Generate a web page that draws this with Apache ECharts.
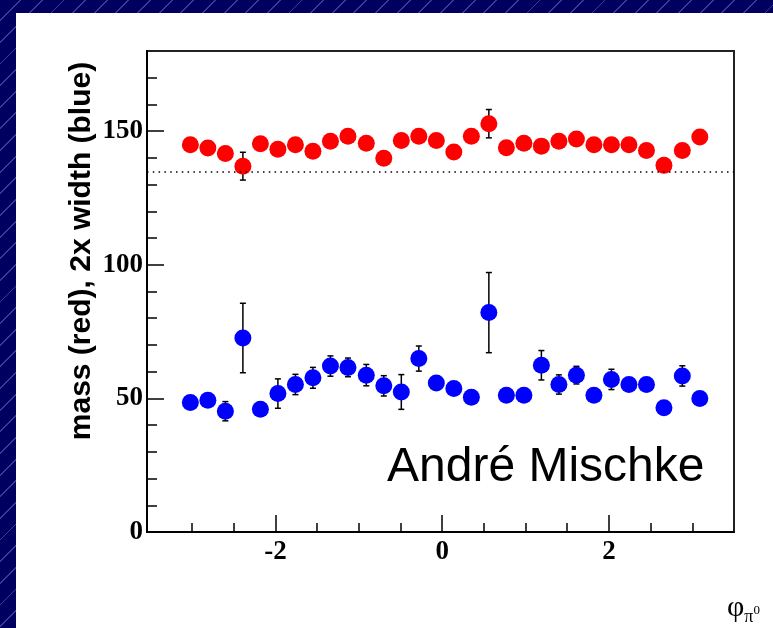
<!DOCTYPE html>
<html>
<head>
<meta charset="utf-8">
<script src="https://cdn.jsdelivr.net/npm/echarts@6/dist/echarts.min.js"></script>
<style>
  html, body { margin: 0; padding: 0; }
  body {
    width: 773px; height: 628px; overflow: hidden;
    background: repeating-linear-gradient(135deg, #000060 0px, #000060 14px, #3c3c98 14px, #3c3c98 15.3px);
  }
  #chart { width: 773px; height: 628px; }
</style>
</head>
<body>
<div id="chart"></div>
<script>
// phi bin centres
var phi = [-3.02, -2.81, -2.60, -2.39, -2.18, -1.97, -1.76, -1.55, -1.34, -1.13,
           -0.91, -0.70, -0.49, -0.28, -0.07, 0.14, 0.35, 0.56, 0.77, 0.98,
           1.19, 1.40, 1.61, 1.82, 2.03, 2.24, 2.45, 2.66, 2.88, 3.09];
// mass (red)
var mass = [144.9, 143.7, 141.6, 136.9, 145.3, 143.2, 144.9, 142.5, 146.2, 148.1,
            145.5, 139.9, 146.5, 148.1, 146.5, 142.2, 148.1, 152.8, 143.8, 145.5,
            144.4, 146.2, 147.1, 144.9, 144.9, 144.9, 142.8, 137.2, 142.8, 147.8];
var massErr = [2, 2, 2, 5.2, 2, 2, 2, 2, 2, 2,
               2, 2, 2, 2, 2, 2, 2, 5.3, 2, 2,
               2, 2, 2, 2, 2, 2, 2, 2, 2, 2];
// 2x width (blue)
var width2 = [48.5, 49.3, 45.2, 72.6, 45.9, 51.8, 55.2, 57.7, 62.1, 61.6,
              58.7, 54.7, 52.4, 64.9, 55.8, 53.7, 50.4, 82.1, 51.2, 51.2,
              62.4, 55.2, 58.7, 51.2, 57.1, 55.2, 55.2, 46.5, 58.4, 50.0];
var width2Err = [1.5, 1.5, 3.6, 13, 1.5, 5.5, 3.8, 3.9, 3.8, 3.5,
                 4, 3.8, 6.5, 4.7, 2, 2, 2, 15, 2, 2,
                 5.5, 3.6, 3.3, 2, 3.8, 2.5, 2.5, 2.5, 3.8, 2];
var pi0Mass = 135;

var xMajor = [-2, 0, 2];
var xMinor = [-3, -2.5, -1.5, -1, -0.5, 0.5, 1, 1.5, 2.5, 3];
var yMajor = [0, 50, 100, 150];
var yMinor = [10, 20, 30, 40, 60, 70, 80, 90, 110, 120, 130, 140, 160, 170];

function zip(xs, ys, es) {
    var out = [];
    for (var i = 0; i < xs.length; i++) out.push([xs[i], ys[i], es[i]]);
    return out;
}

function renderErr(params, api) {
    var x = api.value(0), y = api.value(1), e = api.value(2);
    var top = api.coord([x, y + e]);
    var bot = api.coord([x, y - e]);
    var c = 3;
    var st = { stroke: '#000', lineWidth: 1.5 };
    return {
        type: 'group',
        children: [
            { type: 'line', shape: { x1: top[0], y1: top[1], x2: bot[0], y2: bot[1] }, style: st },
            { type: 'line', shape: { x1: top[0] - c, y1: top[1], x2: top[0] + c, y2: top[1] }, style: st },
            { type: 'line', shape: { x1: bot[0] - c, y1: bot[1], x2: bot[0] + c, y2: bot[1] }, style: st }
        ]
    };
}

var labelFont = { fontFamily: 'Liberation Serif', fontWeight: 'bold', fontSize: 27, color: '#000' };

var myChart = echarts.init(document.getElementById('chart'));
var option = {
    animation: false,
    backgroundColor: 'transparent',
    graphic: [
        { type: 'rect', left: 16, top: 13, z: -10, shape: { width: 757, height: 615 }, style: { fill: '#fff' } },
        {
            type: 'text', x: 82, y: 251, rotation: Math.PI / 2,
            style: {
                text: 'mass (red), 2x width (blue)', fontFamily: 'Liberation Sans', fontWeight: 'bold',
                fontSize: 30, fill: '#000', align: 'center', verticalAlign: 'middle'
            }
        },
        {
            type: 'text', x: 387, y: 468,
            style: {
                text: 'André Mischke', fontFamily: 'Liberation Sans', fontSize: 48,
                fill: '#000', align: 'left', verticalAlign: 'middle'
            }
        },
        {
            type: 'text', x: 727, y: 608,
            style: {
                text: '{a|φ}{b|π}{c|0}', verticalAlign: 'middle',
                rich: {
                    a: { fontFamily: 'Liberation Serif', fontSize: 30, fill: '#000' },
                    b: { fontFamily: 'Liberation Serif', fontSize: 18, fill: '#000', padding: [18, 0, 0, 0] },
                    c: { fontFamily: 'Liberation Serif', fontSize: 13, fill: '#000', padding: [6, 0, 0, 0] }
                }
            }
        }
    ],
    grid: { left: 147, top: 51, right: 39, bottom: 96, show: true, borderColor: '#222', borderWidth: 2 },
    xAxis: [
        {
            type: 'value', min: -3.54, max: 3.5, position: 'bottom',
            axisLine: { show: true, onZero: false, lineStyle: { color: '#000', width: 2 } },
            axisTick: { inside: true, length: 17, customValues: xMajor, lineStyle: { color: '#000', width: 1.5 } },
            axisLabel: Object.assign({ customValues: xMajor, margin: 7 }, labelFont),
            splitLine: { show: false }
        },
        {
            type: 'value', min: -3.54, max: 3.5, position: 'bottom',
            axisLine: { show: false, onZero: false },
            axisTick: { inside: true, length: 9, customValues: xMinor, lineStyle: { color: '#000', width: 1.5 } },
            axisLabel: { show: false },
            splitLine: { show: false }
        }
    ],
    yAxis: [
        {
            type: 'value', min: 0, max: 180, position: 'left', offset: 0,
            axisLine: { show: true, onZero: false, lineStyle: { color: '#000', width: 2 } },
            axisTick: { inside: true, length: 17, customValues: yMajor, lineStyle: { color: '#000', width: 1.5 } },
            axisLabel: Object.assign({ customValues: yMajor, margin: 4 }, labelFont),
            splitLine: { show: false }
        },
        {
            type: 'value', min: 0, max: 180, position: 'left', offset: 0,
            axisLine: { show: false, onZero: false },
            axisTick: { inside: true, length: 10, customValues: yMinor, lineStyle: { color: '#000', width: 1.5 } },
            axisLabel: { show: false },
            splitLine: { show: false }
        }
    ],
    series: [
        {
            type: 'custom', name: 'mass err', renderItem: renderErr,
            encode: { x: 0, y: 1 }, data: zip(phi, mass, massErr), z: 2, silent: true
        },
        {
            type: 'custom', name: 'width err', renderItem: renderErr,
            encode: { x: 0, y: 1 }, data: zip(phi, width2, width2Err), z: 2, silent: true
        },
        {
            type: 'scatter', name: 'mass', symbol: 'circle', symbolSize: 17, z: 3,
            itemStyle: { color: '#ff0000', opacity: 1 },
            data: zip(phi, mass, massErr),
            markLine: {
                silent: true, symbol: 'none', label: { show: false },
                lineStyle: { color: '#000', width: 1.5, type: [1.5, 4.3] },
                data: [{ yAxis: pi0Mass }]
            }
        },
        {
            type: 'scatter', name: 'width', symbol: 'circle', symbolSize: 17, z: 3,
            itemStyle: { color: '#0000ff', opacity: 1 },
            data: zip(phi, width2, width2Err)
        }
    ]
};
myChart.setOption(option);
</script>
</body>
</html>
